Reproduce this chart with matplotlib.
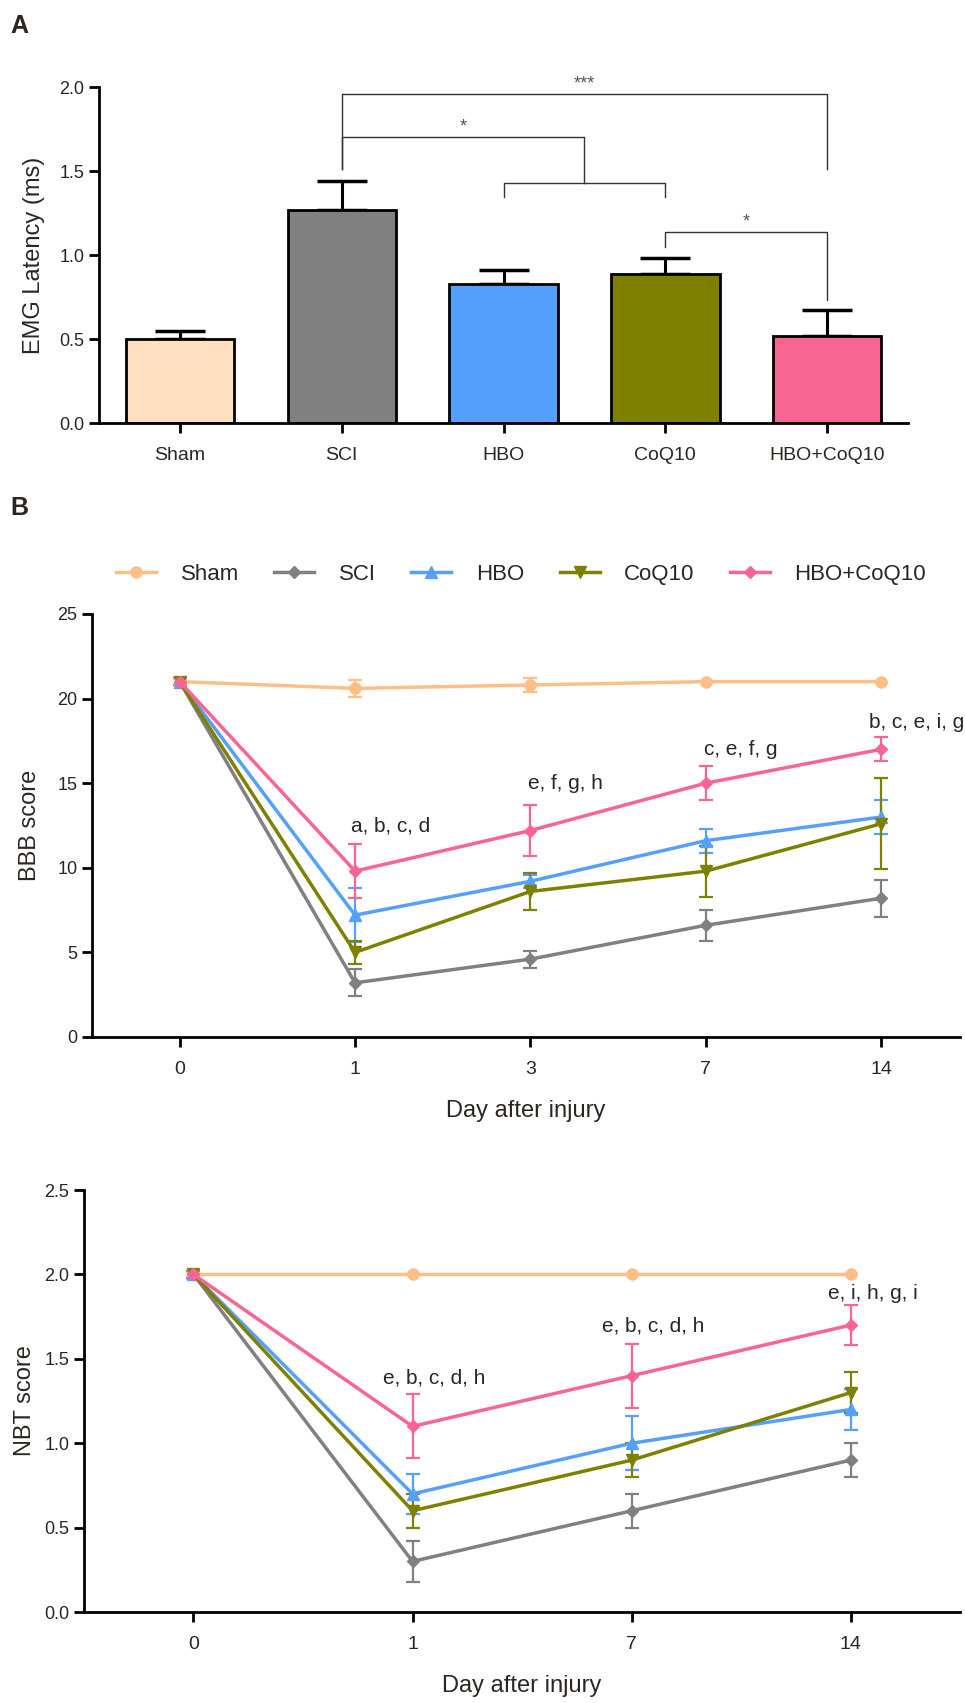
import matplotlib
matplotlib.use('Agg')
from matplotlib import pyplot as plt
from matplotlib.lines import Line2D
import numpy as np

plt.rcParams['font.family'] = ['Liberation Sans', 'DejaVu Sans']
txt = '#2b2622'

groups = ['Sham', 'SCI', 'HBO', 'CoQ10', 'HBO+CoQ10']
bar_fill = ['#FFDFC0', '#808080', '#55A0FC', '#808000', '#F86592']
line_col = ['#FDBF86', '#808080', '#55A0FC', '#808000', '#F86592']
markers = ['o', 'D', '^', 'v', 'D']
msizes = [8, 6, 8, 8, 6]

# panel A: EMG latency
emg_mean = [0.50, 1.27, 0.83, 0.89, 0.52]
emg_err = [0.05, 0.17, 0.08, 0.09, 0.15]

# panel B: BBB score
bbb_days = ['0', '1', '3', '7', '14']
bbb = {
    'Sham': [21, 20.6, 20.8, 21, 21],
    'SCI': [21, 3.2, 4.6, 6.6, 8.2],
    'HBO': [21, 7.2, 9.2, 11.6, 13.0],
    'CoQ10': [21, 5.0, 8.6, 9.8, 12.6],
    'HBO+CoQ10': [21, 9.8, 12.2, 15.0, 17.0],
}
bbb_err = {
    'Sham': [0.2, 0.5, 0.4, 0.0, 0.0],
    'SCI': [0.2, 0.8, 0.5, 0.9, 1.1],
    'HBO': [0.2, 1.6, 0.4, 0.7, 1.0],
    'CoQ10': [0.2, 0.7, 1.1, 1.5, 2.7],
    'HBO+CoQ10': [0.2, 1.6, 1.5, 1.0, 0.7],
}
bbb_notes = ['', 'a, b, c, d', 'e, f, g, h', 'c, e, f, g', 'b, c, e, i, g']
bbb_note_y = [0, 11.9, 14.4, 16.4, 18.0]

# panel C: NBT score
nbt_days = ['0', '1', '7', '14']
nbt = {
    'Sham': [2.0, 2.0, 2.0, 2.0],
    'SCI': [2.0, 0.3, 0.6, 0.9],
    'HBO': [2.0, 0.7, 1.0, 1.2],
    'CoQ10': [2.0, 0.6, 0.9, 1.3],
    'HBO+CoQ10': [2.0, 1.1, 1.4, 1.7],
}
nbt_err = {
    'Sham': [0.02, 0.0, 0.0, 0.0],
    'SCI': [0.02, 0.12, 0.1, 0.1],
    'HBO': [0.02, 0.12, 0.16, 0.12],
    'CoQ10': [0.02, 0.1, 0.1, 0.12],
    'HBO+CoQ10': [0.02, 0.19, 0.19, 0.12],
}
nbt_notes = ['', 'e, b, c, d, h', 'e, b, c, d, h', 'e, i, h, g, i']
nbt_note_y = [0, 1.33, 1.64, 1.83]


def style(ax):
    for s in ['top', 'right']:
        ax.spines[s].set_visible(False)
    for s in ['left', 'bottom']:
        ax.spines[s].set_linewidth(2.0)
    ax.tick_params(width=2.0, length=7, labelsize=13, colors='black', labelcolor=txt)
    ax.tick_params(axis='x', labelsize=14, pad=10)


fig = plt.figure(figsize=(9.65, 17.03), dpi=100)

# ---- A ----
ax = fig.add_axes([0.1026, 0.7516, 0.8384, 0.1973])
x = np.arange(len(groups))
ax.bar(x, emg_mean, width=0.67, color=bar_fill, edgecolor='black', linewidth=2, zorder=2)
ax.errorbar(x, emg_mean, yerr=[np.zeros(5), emg_err], fmt='none', ecolor='black',
            elinewidth=2.2, capsize=18, capthick=2.5, zorder=1)
ax.set_xlim(-0.5, 4.5)
ax.set_ylim(0, 2.0)
ax.set_yticks([0, 0.5, 1.0, 1.5, 2.0])
ax.set_yticklabels(['0.0', '0.5', '1.0', '1.5', '2.0'])
ax.set_xticks(x)
ax.set_xticklabels(groups)
ax.set_ylabel('EMG Latency (ms)', fontsize=17, color=txt, labelpad=10)
style(ax)

bk = dict(color='#333333', lw=1.0, clip_on=False)
# SCI vs HBO+CoQ10
ax.plot([1, 1, 4, 4], [1.51, 1.96, 1.96, 1.51], **bk)
ax.text(2.5, 1.97, '***', ha='center', va='bottom', fontsize=13, color='#555555')
# SCI vs (HBO, CoQ10)
ax.plot([1, 1, 2.5, 2.5], [1.51, 1.70, 1.70, 1.43], **bk)
ax.plot([2, 2, 3, 3], [1.345, 1.43, 1.43, 1.345], **bk)
ax.text(1.75, 1.71, '*', ha='center', va='bottom', fontsize=13, color='#555555')
# CoQ10 vs HBO+CoQ10
ax.plot([3, 3, 4, 4], [1.05, 1.137, 1.137, 0.73], **bk)
ax.text(3.5, 1.147, '*', ha='center', va='bottom', fontsize=13, color='#555555')

fig.text(0.011, 0.992, 'A', fontsize=18, fontweight='bold', va='top', color=txt)
fig.text(0.011, 0.709, 'B', fontsize=18, fontweight='bold', va='top', color=txt)


def lines(ax, days, data, err):
    xs = np.arange(len(days))
    for g, c, m, ms in zip(groups, line_col, markers, msizes):
        ax.errorbar(xs, data[g], yerr=err[g], color=c, marker=m, markersize=ms,
                    lw=2.5, elinewidth=1.6, capsize=5, capthick=1.6, label=g,
                    clip_on=False, zorder=3)
    ax.set_xticks(xs)
    ax.set_xticklabels(days)


# ---- B ----
ax = fig.add_axes([0.0953, 0.3911, 0.8997, 0.2484])
lines(ax, bbb_days, bbb, bbb_err)
ax.set_xlim(-0.5, 4.45)
ax.set_ylim(0, 25)
ax.set_yticks([0, 5, 10, 15, 20, 25])
style(ax)
ax.set_xlabel('Day after injury', fontsize=17, color=txt, labelpad=16)
ax.set_ylabel('BBB score', fontsize=17, color=txt, labelpad=12)
for i, (t, yv) in enumerate(zip(bbb_notes, bbb_note_y)):
    if t:
        ax.text(i + 0.2, yv, t, ha='center', va='bottom', fontsize=15, color=txt)

hs = [Line2D([], [], color=c, marker=m, markersize=ms, lw=2.5)
      for c, m, ms in zip(line_col, markers, msizes)]
fig.legend(handles=hs, labels=groups, loc='center', bbox_to_anchor=(0.54, 0.6625),
           ncol=5, frameon=False, fontsize=16, handlelength=1.8, columnspacing=1.6,
           handletextpad=1.1, labelcolor=txt)

# ---- C ----
ax = fig.add_axes([0.087, 0.0534, 0.908, 0.2478])
lines(ax, nbt_days, nbt, nbt_err)
ax.set_xlim(-0.5, 3.5)
ax.set_ylim(0, 2.5)
ax.set_yticks([0, 0.5, 1.0, 1.5, 2.0, 2.5])
ax.set_yticklabels(['0.0', '0.5', '1.0', '1.5', '2.0', '2.5'])
style(ax)
ax.set_xlabel('Day after injury', fontsize=17, color=txt, labelpad=16)
ax.set_ylabel('NBT score', fontsize=17, color=txt, labelpad=6)
for i, (t, yv) in enumerate(zip(nbt_notes, nbt_note_y)):
    if t:
        ax.text(i + 0.1, yv, t, ha='center', va='bottom', fontsize=15, color=txt)

fig.savefig('out.png', dpi=100)
